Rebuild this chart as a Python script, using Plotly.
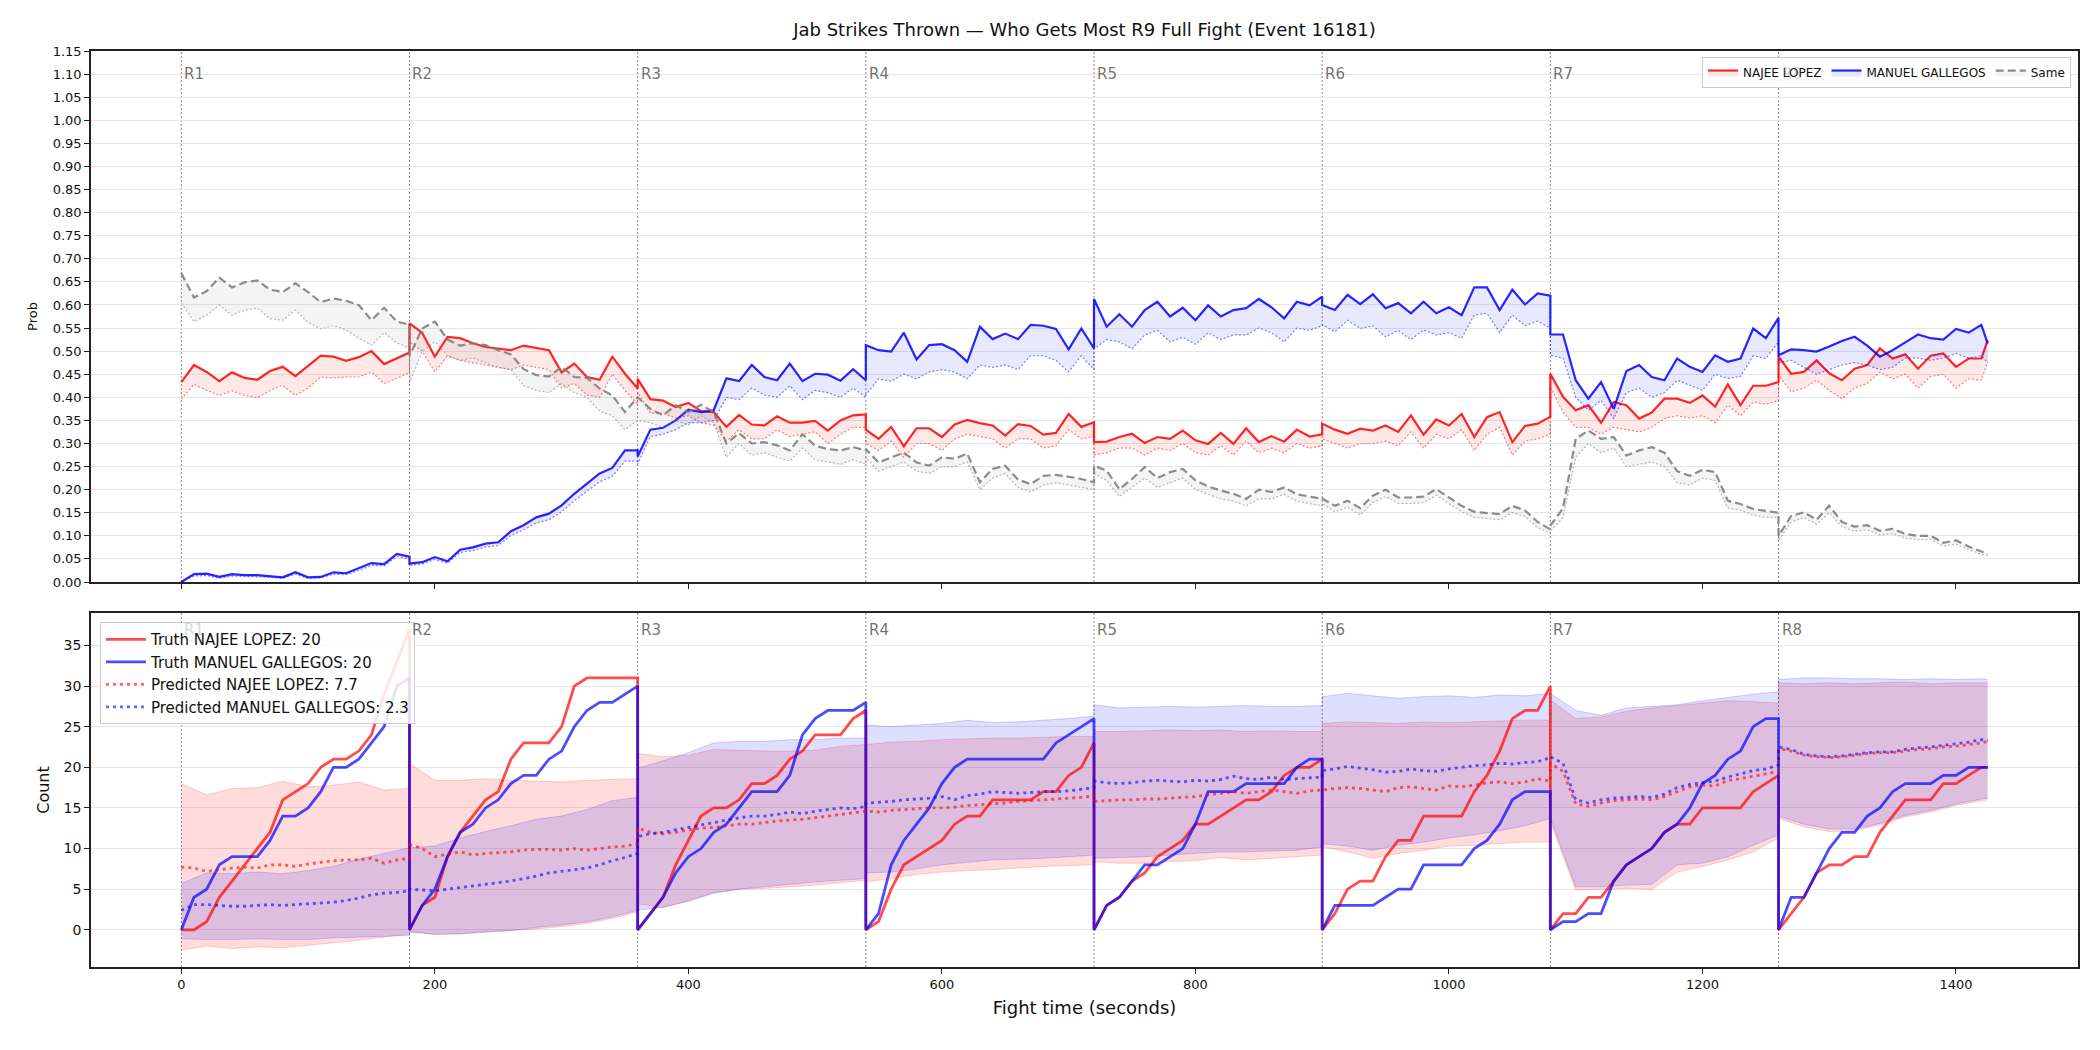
import plotly.graph_objects as go

# ---------------- data ----------------
ROUND_STARTS = [0, 180, 360, 540, 720, 900, 1080, 1260]
ROUND_LABELS = ["R1", "R2", "R3", "R4", "R5", "R6", "R7", "R8"]
LINE_OFFSETS = [list(range(0, 181, 10))] * 7 + [list(range(0, 161, 10)) + [165]]
BAND_OFFSETS = [list(range(0, 181, 20))] * 7 + [list(range(0, 161, 20)) + [165]]

# --- top panel: probability of "who gets most" (solid = main, low = dotted lower edge)
RED_PROB = [
    [0.433, 0.470, 0.455, 0.435, 0.454, 0.442, 0.438, 0.457, 0.466, 0.446, 0.468, 0.490, 0.488, 0.479, 0.487, 0.500, 0.472, 0.484, 0.497],
    [0.560, 0.540, 0.488, 0.531, 0.528, 0.517, 0.509, 0.506, 0.502, 0.512, 0.507, 0.502, 0.454, 0.473, 0.444, 0.438, 0.488, 0.451, 0.419],
    [0.440, 0.396, 0.393, 0.379, 0.388, 0.370, 0.368, 0.336, 0.362, 0.341, 0.339, 0.359, 0.345, 0.345, 0.349, 0.328, 0.350, 0.361, 0.363],
    [0.330, 0.310, 0.336, 0.294, 0.333, 0.333, 0.314, 0.341, 0.351, 0.344, 0.339, 0.317, 0.342, 0.338, 0.319, 0.323, 0.364, 0.336, 0.346],
    [0.303, 0.304, 0.314, 0.321, 0.301, 0.314, 0.310, 0.328, 0.307, 0.299, 0.323, 0.299, 0.333, 0.303, 0.316, 0.304, 0.330, 0.315, 0.320],
    [0.343, 0.330, 0.321, 0.332, 0.328, 0.339, 0.325, 0.361, 0.319, 0.352, 0.339, 0.364, 0.314, 0.357, 0.368, 0.303, 0.338, 0.343, 0.358],
    [0.451, 0.401, 0.372, 0.383, 0.345, 0.390, 0.383, 0.354, 0.367, 0.397, 0.397, 0.388, 0.404, 0.380, 0.428, 0.383, 0.425, 0.425, 0.433],
    [0.488, 0.451, 0.455, 0.480, 0.452, 0.437, 0.462, 0.470, 0.506, 0.484, 0.493, 0.462, 0.490, 0.495, 0.466, 0.484, 0.484, 0.524],
]
RED_PROB_LOW = [
    [0.396, 0.428, 0.415, 0.404, 0.414, 0.404, 0.399, 0.415, 0.426, 0.404, 0.420, 0.444, 0.442, 0.444, 0.444, 0.455, 0.430, 0.441, 0.454],
    [0.520, 0.500, 0.455, 0.490, 0.480, 0.475, 0.470, 0.465, 0.460, 0.470, 0.465, 0.460, 0.420, 0.430, 0.405, 0.400, 0.450, 0.415, 0.385],
    [0.410, 0.365, 0.365, 0.355, 0.360, 0.345, 0.340, 0.305, 0.330, 0.310, 0.310, 0.330, 0.315, 0.320, 0.325, 0.300, 0.320, 0.335, 0.335],
    [0.300, 0.285, 0.305, 0.270, 0.300, 0.300, 0.285, 0.310, 0.320, 0.315, 0.310, 0.290, 0.310, 0.310, 0.290, 0.295, 0.330, 0.310, 0.315],
    [0.275, 0.280, 0.290, 0.290, 0.275, 0.290, 0.285, 0.300, 0.280, 0.275, 0.295, 0.275, 0.305, 0.280, 0.290, 0.280, 0.300, 0.290, 0.295],
    [0.310, 0.300, 0.290, 0.300, 0.300, 0.305, 0.295, 0.325, 0.290, 0.320, 0.310, 0.330, 0.285, 0.320, 0.335, 0.275, 0.305, 0.310, 0.320],
    [0.422, 0.368, 0.335, 0.335, 0.320, 0.335, 0.330, 0.325, 0.335, 0.354, 0.360, 0.355, 0.360, 0.345, 0.383, 0.360, 0.390, 0.385, 0.393],
    [0.448, 0.412, 0.420, 0.437, 0.415, 0.397, 0.420, 0.430, 0.455, 0.440, 0.450, 0.420, 0.445, 0.450, 0.420, 0.440, 0.437, 0.477],
]
BLUE_PROB = [
    [0.000, 0.017, 0.018, 0.011, 0.017, 0.015, 0.015, 0.013, 0.010, 0.021, 0.010, 0.011, 0.021, 0.019, 0.030, 0.041, 0.039, 0.061, 0.055],
    [0.040, 0.043, 0.054, 0.045, 0.070, 0.075, 0.083, 0.086, 0.110, 0.123, 0.140, 0.148, 0.166, 0.191, 0.212, 0.235, 0.247, 0.285, 0.285],
    [0.272, 0.330, 0.334, 0.350, 0.373, 0.368, 0.372, 0.441, 0.435, 0.470, 0.444, 0.437, 0.473, 0.435, 0.451, 0.449, 0.436, 0.461, 0.437],
    [0.513, 0.502, 0.499, 0.540, 0.482, 0.513, 0.515, 0.502, 0.477, 0.553, 0.526, 0.538, 0.526, 0.557, 0.555, 0.548, 0.504, 0.549, 0.506],
    [0.613, 0.553, 0.580, 0.553, 0.589, 0.607, 0.575, 0.594, 0.567, 0.599, 0.575, 0.589, 0.593, 0.613, 0.595, 0.571, 0.607, 0.599, 0.618],
    [0.600, 0.589, 0.622, 0.602, 0.623, 0.593, 0.604, 0.582, 0.607, 0.582, 0.595, 0.578, 0.638, 0.638, 0.589, 0.633, 0.601, 0.625, 0.620],
    [0.536, 0.536, 0.437, 0.397, 0.433, 0.375, 0.457, 0.470, 0.444, 0.437, 0.484, 0.466, 0.455, 0.491, 0.477, 0.484, 0.549, 0.528, 0.572],
    [0.491, 0.504, 0.502, 0.499, 0.510, 0.522, 0.531, 0.512, 0.488, 0.502, 0.519, 0.536, 0.528, 0.525, 0.548, 0.540, 0.557, 0.517],
]
BLUE_PROB_LOW = [
    [0.000, 0.013, 0.014, 0.008, 0.013, 0.012, 0.012, 0.010, 0.008, 0.017, 0.008, 0.009, 0.017, 0.016, 0.025, 0.036, 0.035, 0.055, 0.050],
    [0.036, 0.039, 0.049, 0.041, 0.064, 0.068, 0.076, 0.079, 0.101, 0.113, 0.128, 0.135, 0.152, 0.176, 0.196, 0.217, 0.229, 0.262, 0.262],
    [0.255, 0.315, 0.320, 0.330, 0.345, 0.345, 0.350, 0.400, 0.395, 0.420, 0.405, 0.400, 0.425, 0.395, 0.415, 0.410, 0.400, 0.420, 0.400],
    [0.405, 0.440, 0.435, 0.450, 0.440, 0.455, 0.460, 0.455, 0.440, 0.470, 0.465, 0.470, 0.460, 0.490, 0.490, 0.480, 0.455, 0.490, 0.460],
    [0.505, 0.525, 0.520, 0.505, 0.535, 0.545, 0.520, 0.530, 0.515, 0.540, 0.525, 0.535, 0.535, 0.550, 0.540, 0.520, 0.550, 0.545, 0.555],
    [0.557, 0.542, 0.567, 0.549, 0.555, 0.531, 0.545, 0.525, 0.546, 0.535, 0.540, 0.528, 0.578, 0.582, 0.540, 0.578, 0.555, 0.565, 0.550],
    [0.491, 0.485, 0.400, 0.372, 0.393, 0.354, 0.410, 0.420, 0.400, 0.410, 0.437, 0.426, 0.415, 0.450, 0.441, 0.445, 0.490, 0.484, 0.520],
    [0.475, 0.480, 0.465, 0.450, 0.460, 0.470, 0.475, 0.470, 0.460, 0.465, 0.485, 0.485, 0.480, 0.485, 0.495, 0.485, 0.490, 0.475],
]
SAME_PROB = [
    [0.669, 0.616, 0.630, 0.659, 0.638, 0.649, 0.653, 0.633, 0.628, 0.647, 0.628, 0.606, 0.614, 0.609, 0.600, 0.567, 0.594, 0.564, 0.557],
    [0.490, 0.549, 0.564, 0.525, 0.512, 0.517, 0.513, 0.502, 0.493, 0.461, 0.448, 0.445, 0.466, 0.444, 0.442, 0.419, 0.404, 0.368, 0.400],
    [0.400, 0.375, 0.361, 0.383, 0.368, 0.384, 0.368, 0.300, 0.322, 0.300, 0.303, 0.296, 0.285, 0.320, 0.295, 0.288, 0.285, 0.292, 0.285],
    [0.288, 0.259, 0.270, 0.280, 0.259, 0.252, 0.270, 0.267, 0.278, 0.216, 0.245, 0.252, 0.222, 0.212, 0.230, 0.232, 0.228, 0.223, 0.216],
    [0.252, 0.241, 0.201, 0.223, 0.249, 0.225, 0.238, 0.245, 0.220, 0.207, 0.198, 0.191, 0.180, 0.200, 0.195, 0.205, 0.190, 0.185, 0.180],
    [0.181, 0.165, 0.176, 0.160, 0.187, 0.200, 0.183, 0.183, 0.185, 0.201, 0.183, 0.165, 0.152, 0.150, 0.147, 0.165, 0.155, 0.130, 0.114],
    [0.122, 0.160, 0.310, 0.328, 0.310, 0.314, 0.274, 0.285, 0.292, 0.280, 0.240, 0.230, 0.243, 0.238, 0.176, 0.169, 0.158, 0.154, 0.150],
    [0.100, 0.143, 0.151, 0.135, 0.165, 0.130, 0.120, 0.123, 0.111, 0.115, 0.104, 0.100, 0.100, 0.085, 0.090, 0.077, 0.066, 0.062],
]
SAME_PROB_LOW = [
    [0.604, 0.564, 0.578, 0.600, 0.578, 0.589, 0.593, 0.570, 0.567, 0.589, 0.562, 0.548, 0.555, 0.546, 0.528, 0.513, 0.540, 0.518, 0.506],
    [0.430, 0.500, 0.520, 0.490, 0.480, 0.485, 0.475, 0.465, 0.460, 0.425, 0.415, 0.410, 0.430, 0.410, 0.400, 0.370, 0.360, 0.330, 0.350],
    [0.350, 0.345, 0.335, 0.350, 0.340, 0.360, 0.345, 0.270, 0.300, 0.275, 0.280, 0.270, 0.262, 0.290, 0.265, 0.260, 0.255, 0.265, 0.255],
    [0.270, 0.240, 0.250, 0.260, 0.240, 0.235, 0.250, 0.250, 0.260, 0.200, 0.225, 0.235, 0.205, 0.195, 0.210, 0.215, 0.210, 0.205, 0.200],
    [0.235, 0.220, 0.185, 0.205, 0.225, 0.205, 0.215, 0.225, 0.200, 0.190, 0.180, 0.175, 0.165, 0.180, 0.180, 0.190, 0.175, 0.170, 0.165],
    [0.170, 0.152, 0.162, 0.145, 0.172, 0.185, 0.170, 0.170, 0.172, 0.188, 0.170, 0.152, 0.140, 0.138, 0.135, 0.150, 0.142, 0.118, 0.105],
    [0.110, 0.140, 0.270, 0.300, 0.280, 0.290, 0.250, 0.255, 0.260, 0.250, 0.215, 0.210, 0.225, 0.220, 0.160, 0.155, 0.145, 0.140, 0.140],
    [0.090, 0.130, 0.140, 0.125, 0.150, 0.120, 0.110, 0.113, 0.102, 0.105, 0.095, 0.092, 0.092, 0.078, 0.082, 0.070, 0.060, 0.058],
]

# --- bottom panel: counts within each round
RED_TRUTH = [
    [0, 0, 1, 4, 6, 8, 10, 12, 16, 17, 18, 20, 21, 21, 22, 24, 29, 33, 37],
    [0, 3, 4, 9, 12, 14, 16, 17, 21, 23, 23, 23, 25, 30, 31, 31, 31, 31, 31],
    [0, 2, 4, 8, 11, 14, 15, 15, 16, 18, 18, 19, 21, 22, 24, 24, 24, 26, 27],
    [0, 1, 5, 8, 9, 10, 11, 13, 14, 14, 16, 16, 16, 16, 17, 17, 19, 20, 23],
    [0, 3, 4, 6, 7, 9, 10, 11, 13, 13, 14, 15, 16, 16, 17, 19, 20, 20, 21],
    [0, 2, 5, 6, 6, 9, 11, 11, 14, 14, 14, 14, 17, 19, 22, 26, 27, 27, 30],
    [0, 2, 2, 4, 4, 6, 8, 9, 10, 12, 13, 13, 15, 15, 15, 15, 17, 18, 19],
    [0, 2, 4, 7, 8, 8, 9, 9, 12, 14, 16, 16, 16, 18, 18, 19, 20, 20],
]
BLUE_TRUTH = [
    [0, 4, 5, 8, 9, 9, 9, 11, 14, 14, 15, 17, 20, 20, 21, 23, 25, 30, 31],
    [0, 3, 5, 9, 12, 13, 15, 16, 18, 19, 19, 21, 22, 25, 27, 28, 28, 29, 30],
    [0, 2, 4, 7, 9, 10, 12, 13, 15, 17, 17, 17, 19, 24, 26, 27, 27, 27, 28],
    [0, 2, 8, 11, 13, 15, 18, 20, 21, 21, 21, 21, 21, 21, 21, 23, 24, 25, 26],
    [0, 3, 4, 6, 8, 8, 9, 10, 13, 17, 17, 17, 18, 18, 18, 18, 20, 21, 21],
    [0, 3, 3, 3, 3, 4, 5, 5, 8, 8, 8, 8, 10, 11, 13, 16, 17, 17, 17],
    [0, 1, 1, 2, 2, 6, 8, 9, 10, 12, 13, 15, 18, 19, 21, 22, 25, 26, 26],
    [0, 4, 4, 7, 10, 12, 12, 14, 15, 17, 18, 18, 18, 19, 19, 20, 20, 20],
]
RED_PRED = [
    [7.7, 7.6, 7.2, 7.4, 7.6, 7.7, 7.6, 8.0, 8.0, 7.8, 8.1, 8.3, 8.5, 8.6, 8.6, 8.8, 8.2, 8.6, 8.8],
    [10.5, 10.0, 9.0, 9.3, 9.6, 9.2, 9.4, 9.5, 9.6, 9.8, 9.9, 9.9, 9.8, 10.0, 9.8, 10.0, 10.2, 10.3, 10.6],
    [12.5, 12.0, 11.8, 12.0, 12.3, 12.5, 12.6, 12.8, 13.0, 13.0, 13.2, 13.4, 13.5, 13.6, 13.8, 14.0, 14.2, 14.4, 14.6],
    [14.6, 14.5, 14.7, 14.8, 14.9, 15.0, 15.0, 15.1, 15.3, 15.4, 15.5, 15.6, 15.8, 15.9, 16.0, 16.1, 16.2, 16.3, 16.5],
    [15.8, 15.9, 16.0, 16.0, 16.1, 16.1, 16.2, 16.3, 16.4, 16.6, 16.8, 17.0, 16.8, 17.0, 17.2, 17.0, 16.8, 17.1, 17.2],
    [17.2, 17.4, 17.5, 17.4, 17.2, 17.0, 17.5, 17.6, 17.4, 17.2, 17.7, 17.6, 17.8, 18.1, 18.2, 18.0, 18.2, 18.6, 18.3],
    [20.5, 19.5, 15.5, 15.2, 15.6, 15.9, 16.0, 16.1, 16.0, 16.4, 17.0, 17.6, 17.8, 17.7, 18.4, 18.6, 18.9, 19.2, 19.5],
    [22.3, 22.0, 21.5, 21.3, 21.2, 21.3, 21.5, 21.7, 21.8, 21.8, 22.0, 22.2, 22.3, 22.5, 22.6, 22.8, 23.0, 23.2],
]
BLUE_PRED = [
    [2.4, 3.1, 3.1, 3.0, 2.9, 2.9, 3.0, 3.1, 3.0, 3.1, 3.2, 3.3, 3.4, 3.6, 3.9, 4.3, 4.5, 4.6, 4.8],
    [5.0, 4.9, 4.8, 5.0, 5.2, 5.4, 5.6, 5.8, 6.0, 6.3, 6.6, 7.0, 7.2, 7.4, 7.6, 8.0, 8.5, 8.9, 9.4],
    [11.5, 11.8, 12.0, 12.3, 12.6, 12.9, 13.2, 13.5, 13.8, 14.0, 14.0, 14.2, 14.5, 14.3, 14.6, 14.8, 15.0, 14.9, 15.2],
    [15.6, 15.7, 15.8, 16.0, 16.1, 16.2, 16.4, 16.0, 16.5, 16.7, 17.0, 16.9, 16.8, 16.9, 17.0, 17.0, 17.1, 17.3, 17.5],
    [18.3, 18.1, 18.0, 18.1, 18.3, 18.4, 18.3, 18.2, 18.4, 18.3, 18.5, 18.9, 18.6, 18.5, 18.8, 18.5, 18.6, 18.7, 18.8],
    [19.6, 19.8, 20.1, 19.9, 19.7, 19.4, 19.5, 19.8, 19.6, 19.5, 19.8, 20.0, 20.2, 20.3, 20.5, 20.4, 20.6, 20.7, 21.2],
    [21.3, 20.5, 16.0, 15.6, 16.0, 16.2, 16.3, 16.4, 16.3, 16.7, 17.5, 17.9, 18.1, 18.3, 18.8, 19.2, 19.6, 19.8, 20.3],
    [22.5, 22.2, 21.6, 21.4, 21.3, 21.4, 21.6, 21.8, 21.9, 21.9, 22.2, 22.4, 22.5, 22.7, 22.9, 23.1, 23.4, 23.3],
]
RED_BAND_UP = [
    [18.0, 16.6, 17.4, 17.5, 18.3, 17.6, 17.8, 18.2, 17.2, 17.4],
    [20.5, 18.4, 18.4, 18.6, 18.4, 18.3, 18.2, 18.4, 18.5, 18.6],
    [21.7, 21.3, 21.5, 22.2, 22.1, 22.0, 22.0, 22.1, 22.6, 22.8],
    [22.8, 23.1, 23.2, 23.4, 23.5, 23.6, 23.6, 23.7, 23.8, 23.8],
    [24.4, 24.4, 24.5, 24.6, 24.5, 24.6, 24.4, 24.5, 24.4, 24.4],
    [25.4, 25.6, 25.5, 25.4, 25.6, 25.5, 25.6, 25.7, 25.8, 25.8],
    [28.3, 26.0, 26.2, 26.9, 27.3, 27.6, 27.9, 28.2, 28.1, 27.9],
    [30.4, 30.3, 30.4, 30.3, 30.4, 30.5, 30.3, 30.4, 30.4, 30.4],
]
RED_BAND_LOW = [
    [-2.5, -2.0, -2.3, -2.1, -2.2, -1.9, -1.6, -1.3, -0.9, -0.5],
    [-0.2, -0.6, -0.5, -0.2, -0.1, 0.1, 0.4, 0.8, 1.4, 2.2],
    [3.2, 2.7, 3.6, 4.6, 5.0, 5.1, 5.3, 5.5, 5.8, 6.1],
    [5.9, 6.3, 6.8, 7.1, 7.3, 7.4, 7.6, 7.8, 7.9, 8.0],
    [8.4, 8.2, 8.2, 8.4, 8.5, 8.9, 8.6, 8.8, 9.0, 9.2],
    [10.2, 9.6, 8.8, 9.4, 9.8, 10.3, 10.4, 10.6, 10.8, 10.8],
    [13.3, 4.9, 5.0, 5.1, 5.0, 7.1, 7.8, 8.6, 9.6, 11.3],
    [13.7, 12.7, 12.1, 12.2, 12.9, 13.9, 14.5, 15.3, 15.9, 16.0],
]
BLUE_BAND_UP = [
    [5.7, 7.0, 6.9, 7.1, 6.9, 7.3, 7.8, 8.7, 9.4, 10.1],
    [10.1, 10.3, 11.3, 12.1, 12.8, 13.6, 14.0, 14.8, 15.9, 16.3],
    [19.9, 20.8, 21.8, 23.0, 23.2, 23.2, 23.4, 23.4, 23.6, 23.6],
    [25.2, 25.0, 25.2, 25.4, 25.8, 25.5, 25.6, 25.8, 26.0, 26.3],
    [27.7, 27.3, 27.4, 27.5, 27.4, 27.5, 27.6, 27.5, 27.5, 27.6],
    [28.7, 29.1, 28.8, 28.5, 28.7, 28.8, 28.6, 28.9, 28.8, 29.1],
    [29.1, 27.0, 26.4, 27.3, 27.5, 27.7, 28.2, 28.6, 29.0, 29.3],
    [30.8, 31.0, 31.0, 30.9, 30.9, 30.8, 30.9, 30.8, 30.9, 30.8],
]
BLUE_BAND_LOW = [
    [-1.1, -1.2, -1.2, -1.1, -1.2, -1.2, -1.0, -0.9, -0.8, -0.7],
    [-0.3, -0.5, -0.5, -0.3, -0.1, 0.3, 0.6, 1.0, 1.6, 2.4],
    [2.4, 2.8, 3.5, 4.5, 5.0, 5.3, 5.6, 5.9, 6.1, 6.3],
    [7.0, 7.1, 7.5, 8.0, 8.3, 8.6, 8.7, 8.8, 9.0, 9.2],
    [8.8, 8.9, 9.0, 9.2, 9.4, 9.6, 9.6, 9.7, 9.8, 10.2],
    [10.6, 10.3, 9.8, 10.4, 10.8, 11.3, 11.7, 12.2, 12.8, 13.7],
    [13.7, 5.3, 5.3, 5.5, 5.6, 8.0, 8.2, 9.0, 10.4, 11.7],
    [14.0, 13.0, 12.4, 12.4, 13.1, 14.1, 14.7, 15.5, 16.1, 16.2],
]

NAME_RED = "NAJEE LOPEZ"
NAME_BLUE = "MANUEL GALLEGOS"
TRUTH_RED_TOTAL = 20
TRUTH_BLUE_TOTAL = 20
PRED_RED_TOTAL = 7.7
PRED_BLUE_TOTAL = 2.3
TITLE = "Jab Strikes Thrown \u2014 Who Gets Most R9 Full Fight (Event 16181)"


# ---------------- helpers ----------------
def flat(rounds):
    return [v for r in rounds for v in r]


def xs(offsets):
    return flat([[ROUND_STARTS[i] + o for o in offs] for i, offs in enumerate(offsets)])


X_LINE = xs(LINE_OFFSETS)
X_BAND = xs(BAND_OFFSETS)

FONT = "DejaVu Sans"
fig = go.Figure()

# ---------------- top panel ----------------
top_series = [
    (NAME_RED, RED_PROB, RED_PROB_LOW, "rgba(255,0,0,0.85)", "rgba(255,0,0,0.5)", "rgba(255,0,0,0.09)", "solid"),
    (NAME_BLUE, BLUE_PROB, BLUE_PROB_LOW, "rgba(0,0,255,0.85)", "rgba(0,0,255,0.5)", "rgba(0,0,255,0.09)", "solid"),
    ("Same", SAME_PROB, SAME_PROB_LOW, "rgba(128,128,128,0.9)", "rgba(128,128,128,0.55)", "rgba(128,128,128,0.09)", "8px,4px"),
]
for name, main, low, col, lowcol, fillcol, dash in top_series:
    fig.add_trace(go.Scatter(
        x=X_LINE, y=flat(low), mode="lines", xaxis="x", yaxis="y",
        line=dict(color=lowcol, width=1.2, dash="2px,2px"),
        showlegend=False, hoverinfo="skip"))
    fig.add_trace(go.Scatter(
        x=X_LINE, y=flat(main), mode="lines", xaxis="x", yaxis="y",
        line=dict(color=col, width=2.2, dash=dash),
        fill="tonexty", fillcolor=fillcol,
        name=name, legend="legend", showlegend=True))

# ---------------- bottom panel ----------------
for up, low, fillcol, edgecol in [
    (RED_BAND_UP, RED_BAND_LOW, "rgba(255,0,0,0.14)", "rgba(255,0,0,0.18)"),
    (BLUE_BAND_UP, BLUE_BAND_LOW, "rgba(0,0,255,0.13)", "rgba(0,0,255,0.18)"),
]:
    fig.add_trace(go.Scatter(
        x=X_BAND, y=flat(low), mode="lines", xaxis="x2", yaxis="y2",
        line=dict(color=edgecol, width=1), showlegend=False, hoverinfo="skip",
        legend="legend2"))
    fig.add_trace(go.Scatter(
        x=X_BAND, y=flat(up), mode="lines", xaxis="x2", yaxis="y2",
        line=dict(color=edgecol, width=1), fill="tonexty", fillcolor=fillcol,
        showlegend=False, hoverinfo="skip", legend="legend2"))

fig.add_trace(go.Scatter(
    x=X_LINE, y=flat(RED_TRUTH), mode="lines", xaxis="x2", yaxis="y2",
    line=dict(color="rgba(255,0,0,0.7)", width=2.8),
    name=f"Truth {NAME_RED}: {TRUTH_RED_TOTAL}", legend="legend2"))
fig.add_trace(go.Scatter(
    x=X_LINE, y=flat(BLUE_TRUTH), mode="lines", xaxis="x2", yaxis="y2",
    line=dict(color="rgba(0,0,255,0.7)", width=2.8),
    name=f"Truth {NAME_BLUE}: {TRUTH_BLUE_TOTAL}", legend="legend2"))
fig.add_trace(go.Scatter(
    x=X_LINE, y=flat(RED_PRED), mode="lines", xaxis="x2", yaxis="y2",
    line=dict(color="rgba(255,0,0,0.6)", width=2.8, dash="3px,4px"),
    name=f"Predicted {NAME_RED}: {PRED_RED_TOTAL}", legend="legend2"))
fig.add_trace(go.Scatter(
    x=X_LINE, y=flat(BLUE_PRED), mode="lines", xaxis="x2", yaxis="y2",
    line=dict(color="rgba(0,0,255,0.6)", width=2.8, dash="3px,4px"),
    name=f"Predicted {NAME_BLUE}: {PRED_BLUE_TOTAL}", legend="legend2"))

# ---------------- round markers ----------------
shapes = []
annotations = []
for i, (start, lab) in enumerate(zip(ROUND_STARTS, ROUND_LABELS)):
    for yref, ax in (("y domain", "x"), ("y2 domain", "x2")):
        shapes.append(dict(type="line", xref=ax, yref=yref, x0=start, x1=start, y0=0, y1=1,
                           line=dict(color="rgba(70,70,70,0.65)", width=1, dash="2px,2px"),
                           layer="below"))
    top_hidden = (i == 7)
    annotations.append(dict(
        xref="x", yref="y domain", x=start, y=0.956, xanchor="left", yanchor="middle",
        xshift=1, text=lab, showarrow=False,
        font=dict(family=FONT, size=15, color="rgba(90,90,90,0.25)" if top_hidden else "rgba(90,90,90,0.85)")))
    bot_hidden = (i == 0)
    annotations.append(dict(
        xref="x2", yref="y2 domain", x=start, y=0.952, xanchor="left", yanchor="middle",
        xshift=1, text=lab, showarrow=False,
        font=dict(family=FONT, size=15, color="rgba(90,90,90,0.25)" if bot_hidden else "rgba(90,90,90,0.85)")))

axis_common = dict(showline=True, mirror=True, linecolor="#222", linewidth=1.5,
                   ticks="outside", ticklen=5, tickwidth=1.3, tickcolor="#222",
                   zeroline=False)

fig.update_layout(
    width=2100, height=1050,
    template="none",
    margin=dict(l=91, r=22, t=51, b=83, autoexpand=False),
    paper_bgcolor="white", plot_bgcolor="white",
    font=dict(family=FONT, color="#111", size=13),
    title=dict(text=TITLE, x=0.5, xref="paper", xanchor="center",
               y=1 - 30 / 1050, yref="container", yanchor="middle",
               font=dict(family=FONT, size=18, color="#111")),
    xaxis=dict(domain=[0, 1], anchor="y", range=[-71.25, 1496.25],
               tickvals=[0, 200, 400, 600, 800, 1000, 1200, 1400],
               showticklabels=False, showgrid=False, **axis_common),
    yaxis=dict(domain=[0.4203, 1], anchor="x", range=[0, 1.15], dtick=0.05, tick0=0,
               tickformat=".2f", showgrid=True, gridcolor="#e6e6e6", gridwidth=1,
               tickfont=dict(size=13),
               title=dict(text="Prob", font=dict(size=13), standoff=12), automargin=False,
               **axis_common),
    xaxis2=dict(domain=[0, 1], anchor="y2", matches="x", range=[-71.25, 1496.25],
                tickvals=[0, 200, 400, 600, 800, 1000, 1200, 1400],
                showgrid=False, tickfont=dict(size=13),
                title=dict(text="Fight time (seconds)", font=dict(size=18), standoff=10),
                automargin=False, **axis_common),
    yaxis2=dict(domain=[0, 0.3865], anchor="x2", range=[-4.58, 39.0], dtick=5, tick0=0,
                showgrid=True, gridcolor="#e6e6e6", gridwidth=1,
                tickfont=dict(size=14),
                title=dict(text="Count", font=dict(size=16), standoff=10), automargin=False,
                **axis_common),
    legend=dict(orientation="h", x=0.9965, xanchor="right", y=0.9934, yanchor="top",
                traceorder="normal",
                bgcolor="rgba(255,255,255,0.85)", bordercolor="#cccccc", borderwidth=1,
                font=dict(size=12, family=FONT), itemwidth=30),
    legend2=dict(orientation="v", x=0.0045, xanchor="left", y=0.3766, yanchor="top",
                 traceorder="normal",
                 bgcolor="rgba(255,255,255,0.85)", bordercolor="#cccccc", borderwidth=1,
                 font=dict(size=15, family=FONT), itemwidth=40, tracegroupgap=0),
    shapes=shapes,
    annotations=annotations,
    showlegend=True,
)

fig.write_html("out.html")
